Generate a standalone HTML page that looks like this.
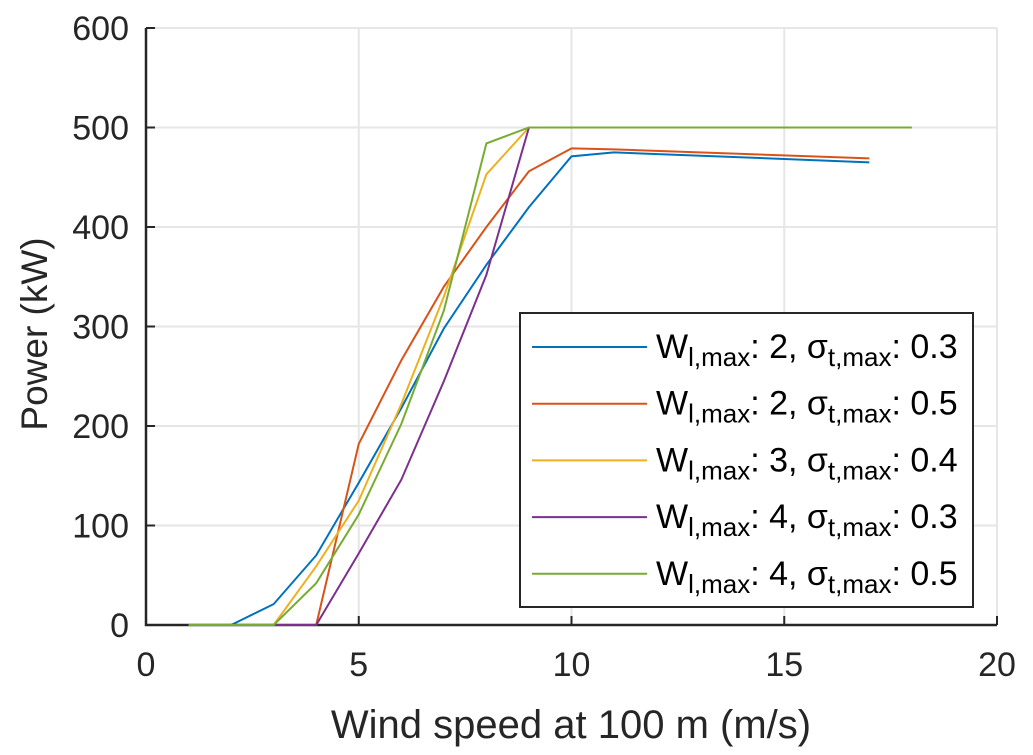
<!DOCTYPE html>
<html><head><meta charset="utf-8"><style>
body{margin:0;background:#fff;}
svg{display:block;font-family:"Liberation Sans",sans-serif;}
</style></head><body>
<svg id="chart" width="1033" height="755">
<g id="grid"></g>
<g id="axes"></g>
<g id="series"></g>
<text x="571" y="738" font-size="40" fill="#262626" text-anchor="middle">Wind speed at 100 m (m/s)</text>
<text transform="translate(47,334) rotate(-90)" font-size="37" fill="#262626" text-anchor="middle">Power (kW)</text>
<g id="legend"></g>
</svg>
<script>
const xTicks=[0,5,10,15,20];
const yTicks=[0,100,200,300,400,500,600];
const seriesColors=["#0072BD","#D95319","#EDB120","#7E2F8E","#77AC30"];
const legendW=["2","2","3","4","4"];
const legendS=["0.3","0.5","0.4","0.3","0.5"];
const xs1=[1,2,3,4,5,6,7,8,9,10,11,17];
const s1=[0,0,21,70,143,218,298,362,420,471,475,465];
const xs2=[1,2,3,4,5,6,7,8,9,10,11,17];
const s2=[0,0,0,0,182,266,340,400,456,479,478,469];
const xs3=[1,2,3,4,5,6,7,8,9];
const s3=[0,0,0,59,125,222,330,453,500];
const xs4=[1,2,3,4,5,6,7,8,9];
const s4=[0,0,0,0,72,146,245,352,500];
const xs5=[1,2,3,4,5,6,7,8,9,10,11,12,13,14,15,16,17,18];
const s5=[0,0,0,42,111,202,316,484,500,500,500,500,500,500,500,500,500,500];
const allX=[xs1,xs2,xs3,xs4,xs5], allY=[s1,s2,s3,s4,s5];
const NS="http://www.w3.org/2000/svg";
const X0=146,X1=997,Y0=625,Y1=28;
const xs=v=>X0+(v-0)/(20-0)*(X1-X0);
const ys=v=>Y0-(v-0)/(600-0)*(Y0-Y1);
function mk(t,a,p){const e=document.createElementNS(NS,t);for(const k in a)e.setAttribute(k,a[k]);p.appendChild(e);return e;}
const grid=document.getElementById('grid'),axes=document.getElementById('axes'),ser=document.getElementById('series'),leg=document.getElementById('legend');
xTicks.forEach(t=>{
 const l=mk('line',{x1:xs(t),x2:xs(t),y1:Y0,y2:Y1,stroke:'#e6e6e6','stroke-width':2},grid);
 
 
 const k=mk('line',{x1:xs(t),x2:xs(t),y1:Y0,y2:Y0-9,stroke:'#262626','stroke-width':2},axes);
 
 
 const tx=mk('text',{x:xs(t),y:Y0+51,'font-size':34,fill:'#262626','text-anchor':'middle'},axes);
 tx.textContent=t;
 
 
});
yTicks.forEach(t=>{
 const l=mk('line',{x1:X0,x2:X1,y1:ys(t),y2:ys(t),stroke:'#e6e6e6','stroke-width':2},grid);
 
 
 const k=mk('line',{x1:X0,x2:X0+9,y1:ys(t),y2:ys(t),stroke:'#262626','stroke-width':2},axes);
 
 
 const tx=mk('text',{x:X0-17,y:ys(t)+12,'font-size':34,fill:'#262626','text-anchor':'end'},axes);
 tx.textContent=t;
 
 
});
const ax=mk('path',{d:`M${X0},${Y1}V${Y0}H${X1}`,fill:'none',stroke:'#262626','stroke-width':2.5},axes);


allY.forEach((s,i)=>{
 const pts=s.map((v,j)=>xs(allX[i][j])+','+ys(v)).join(' ');
 const p=mk('polyline',{points:pts,fill:'none',stroke:seriesColors[i],'stroke-width':2},ser);
 
 
});
const box=mk('rect',{x:520,y:313,width:453,height:294,fill:'#fff',stroke:'#262626','stroke-width':2},leg);


seriesColors.forEach((c,i)=>{
 const y=347+i*56.7;
 const g=mk('g',{},leg);
 
 
 mk('line',{x1:532,x2:647,y1:y,y2:y,stroke:c,'stroke-width':2},g);
 const t=mk('text',{x:656,y:y+11,'font-size':34,fill:'#000'},g);
 t.innerHTML=`W<tspan font-size="26" dy="8">l,max</tspan><tspan dy="-8">: ${legendW[i]}, σ</tspan><tspan font-size="26" dy="8">t,max</tspan><tspan dy="-8">: ${legendS[i]}</tspan>`;
});
</script>
</body></html>
